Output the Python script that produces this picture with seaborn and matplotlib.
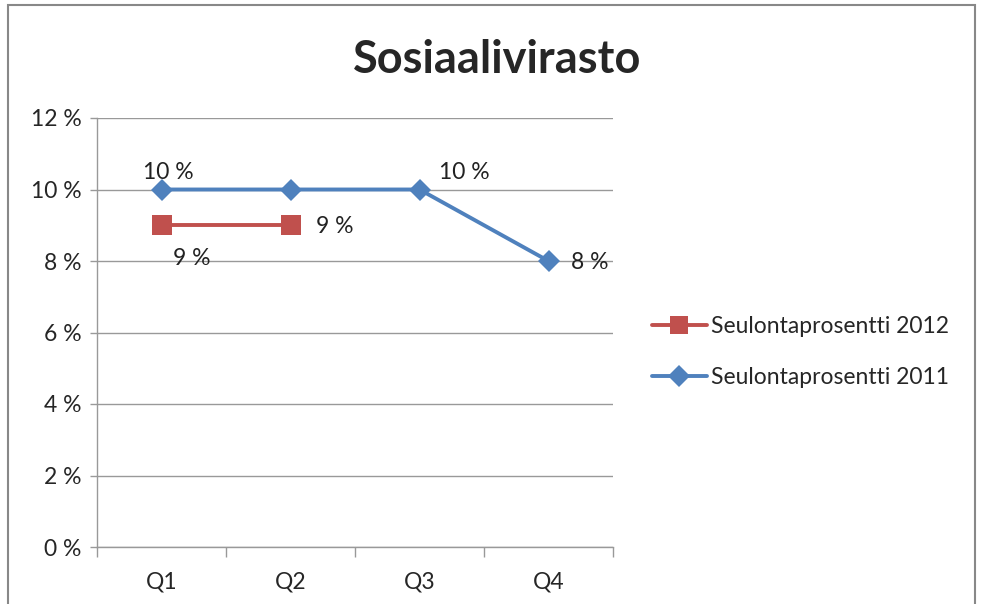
import matplotlib
import matplotlib.pyplot as plt
import numpy as np
import pandas as pd
import seaborn as sns
from matplotlib.patches import Rectangle

matplotlib.use("Agg")

QUARTERS = ["Q1", "Q2", "Q3", "Q4"]
RATE_2012 = [9, 9, None, None]
RATE_2011 = [10, 10, 10, 8]
SERIES = ["Seulontaprosentti 2012", "Seulontaprosentti 2011"]
COLORS = ["#C0504D", "#4F81BD"]
MARKERS = ["s", "D"]
Y_TICKS = [0, 2, 4, 6, 8, 10, 12]

# label offsets in points (dx, dy) per series / quarter
LABEL_POS_2012 = [(22, -24), (32, -1), None, None]
LABEL_POS_2011 = [(5, 12), None, (32, 12), (30, -1)]

rows = []
for name, vals in zip(SERIES, [RATE_2012, RATE_2011]):
    for i, (q, v) in enumerate(zip(QUARTERS, vals)):
        if v is not None:
            rows.append({"x": i, "quarter": q, "value": v, "series": name})
df = pd.DataFrame(rows)

sns.set_style("white")
plt.rcParams["font.family"] = ["Lato", "DejaVu Sans"]

FS = 16.5

fig = plt.figure(figsize=(9.81, 6.04), dpi=100)
ax = fig.add_axes([97 / 981, 1 - 547 / 604, (613 - 97) / 981, (547 - 118) / 604])

sns.lineplot(
    data=df,
    x="x",
    y="value",
    hue="series",
    style="series",
    hue_order=SERIES,
    style_order=SERIES,
    palette=COLORS,
    markers=MARKERS,
    dashes=False,
    linewidth=2.8,
    markersize=11,
    markeredgewidth=0,
    ax=ax,
    legend="full",
)
# bigger square marker for 2012
ax.lines[0].set_markersize(15)

for vals, offs in [(RATE_2012, LABEL_POS_2012), (RATE_2011, LABEL_POS_2011)]:
    for i, (v, off) in enumerate(zip(vals, offs)):
        if v is None or off is None:
            continue
        ax.annotate(
            f"{v} %",
            (i, v),
            xytext=off,
            textcoords="offset points",
            ha="center",
            va="center",
            fontsize=FS,
            color="#222222",
        )

ax.set_xlim(-0.5, 3.5)
ax.set_ylim(0, 12)
ax.set_yticks(Y_TICKS)
ax.set_yticklabels([f"{t} %" for t in Y_TICKS], fontsize=FS)
ax.set_xticks(np.arange(-0.5, 4, 1))
ax.set_xticklabels([])
ax.set_xticks(range(len(QUARTERS)), minor=True)
ax.set_xticklabels(QUARTERS, minor=True, fontsize=FS)
ax.tick_params(axis="x", which="major", length=7, width=1, color="#999999", direction="out", bottom=True)
ax.tick_params(axis="x", which="minor", length=0, pad=18)
ax.tick_params(axis="y", length=5, width=1, color="#999999", direction="out", left=True, pad=6)
ax.set_xlabel("")
ax.set_ylabel("")
ax.grid(axis="y", color="#999999", linewidth=1)
ax.set_axisbelow(True)
for side in ["top", "right"]:
    ax.spines[side].set_visible(False)
for side in ["left", "bottom"]:
    ax.spines[side].set_color("#999999")
    ax.spines[side].set_linewidth(1)

handles, labels = ax.get_legend_handles_labels()
for h, m in zip(handles, [13, 11]):
    h.set_markersize(m)
    h.set_linewidth(2.8)
ax.legend(
    handles,
    labels,
    loc="center left",
    bbox_to_anchor=(1.035, 0.455),
    frameon=False,
    fontsize=FS,
    handlelength=2.4,
    handletextpad=0.2,
    labelspacing=1.3,
)

fig.text(0.507, 0.9, "Sosiaalivirasto", ha="center", va="center", fontsize=32.5, fontweight="bold")

fig.patches.append(
    Rectangle(
        (8 / 981, -0.1),
        (975 - 8) / 981,
        1.1 - 5 / 604,
        transform=fig.transFigure,
        fill=False,
        edgecolor="#888888",
        linewidth=1.5,
    )
)

fig.savefig("out.png", dpi=100)
